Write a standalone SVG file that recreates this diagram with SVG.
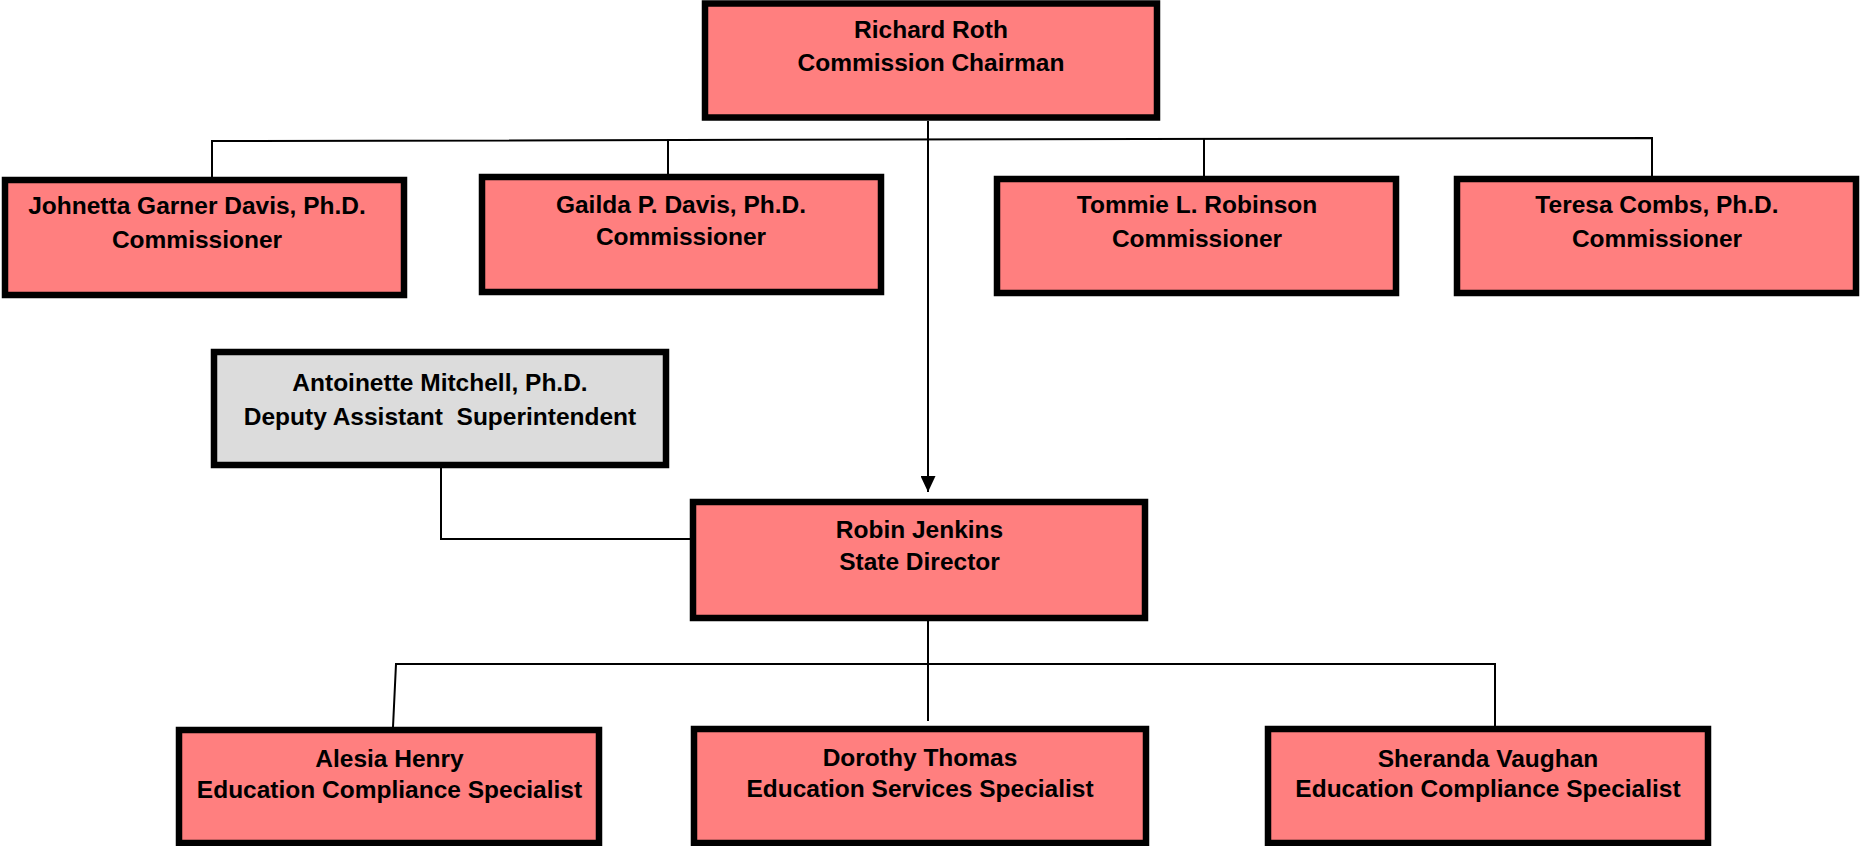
<svg xmlns="http://www.w3.org/2000/svg" width="1860" height="846" viewBox="0 0 1860 846">
<style>
.box{fill:#FF7F7F;stroke:#000;stroke-width:6.5}
.gray{fill:#DCDCDC;stroke:#000;stroke-width:6.5}
.t{font-family:"Liberation Sans",Arial,sans-serif;font-weight:bold;font-size:24.5px;fill:#000;text-anchor:middle}
.ln{fill:none;stroke:#000;stroke-width:2}
</style>
<defs>
<marker id="arr" markerWidth="16" markerHeight="15" refX="16" refY="7.5" orient="auto" markerUnits="userSpaceOnUse" viewBox="0 0 16 15">
<path d="M0,0 L16,7.5 L0,15 Z" fill="#000"/>
</marker>
</defs>
<rect width="1860" height="846" fill="#fff"/>
<g id="connectors">
<path class="ln" d="M928,121 V492" marker-end="url(#arr)"/>
<path class="ln" d="M212,177 V141 L1652,138 V176"/>
<path class="ln" d="M668,140 V174"/>
<path class="ln" d="M1204,139 V176"/>
<path class="ln" d="M441,468 V539 H690"/>
<path class="ln" d="M928,621 V721"/>
<path class="ln" d="M393,727 L396,664 H1495 V726"/>
</g>
<g id="chairman">
<rect class="box" x="705" y="3.5" width="452" height="114"/>
<text class="t" x="931" y="38">Richard Roth</text>
<text class="t" x="931" y="71">Commission Chairman</text>
</g>
<g id="johnetta">
<rect class="box" x="5" y="180" width="399" height="115"/>
<text class="t" x="197" y="214">Johnetta Garner Davis, Ph.D.</text>
<text class="t" x="197" y="248">Commissioner</text>
</g>
<g id="gailda">
<rect class="box" x="482" y="177" width="399" height="115"/>
<text class="t" x="681" y="213">Gailda P. Davis, Ph.D.</text>
<text class="t" x="681" y="245">Commissioner</text>
</g>
<g id="tommie">
<rect class="box" x="997" y="179" width="399" height="114"/>
<text class="t" x="1197" y="213">Tommie L. Robinson</text>
<text class="t" x="1197" y="247">Commissioner</text>
</g>
<g id="teresa">
<rect class="box" x="1457" y="179" width="399" height="114"/>
<text class="t" x="1657" y="213">Teresa Combs, Ph.D.</text>
<text class="t" x="1657" y="247">Commissioner</text>
</g>
<g id="antoinette">
<rect class="gray" x="214" y="352" width="452" height="113"/>
<text class="t" x="440" y="391">Antoinette Mitchell, Ph.D.</text>
<text class="t" x="440" y="425" xml:space="preserve">Deputy Assistant  Superintendent</text>
</g>
<g id="robin">
<rect class="box" x="693" y="502" width="452" height="116"/>
<text class="t" x="919.5" y="538">Robin Jenkins</text>
<text class="t" x="919.5" y="570">State Director</text>
</g>
<g id="alesia">
<rect class="box" x="179" y="730" width="420" height="113"/>
<text class="t" x="389.5" y="767">Alesia Henry</text>
<text class="t" x="389.5" y="798">Education Compliance Specialist</text>
</g>
<g id="dorothy">
<rect class="box" x="694" y="729" width="452" height="114"/>
<text class="t" x="920" y="766">Dorothy Thomas</text>
<text class="t" x="920" y="797">Education Services Specialist</text>
</g>
<g id="sheranda">
<rect class="box" x="1268" y="729" width="440" height="114"/>
<text class="t" x="1488" y="767">Sheranda Vaughan</text>
<text class="t" x="1488" y="797">Education Compliance Specialist</text>
</g>
</svg>
